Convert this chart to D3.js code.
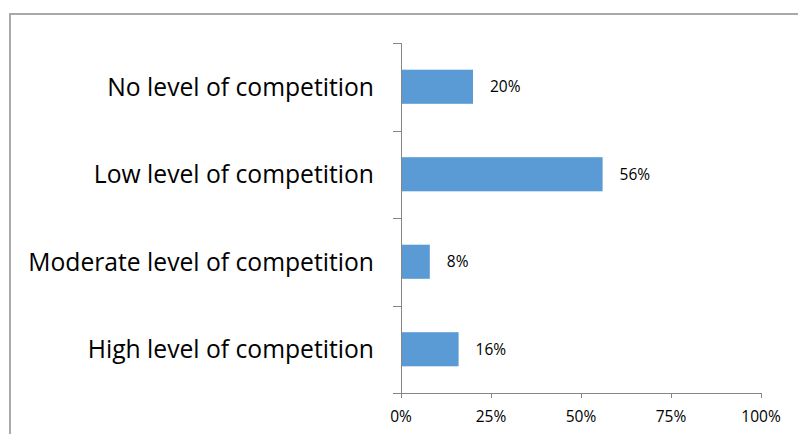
<!DOCTYPE html>
<html>
<head>
<meta charset="utf-8">
<script src="https://cdn.jsdelivr.net/npm/d3@7"></script>
<style>
  html, body { margin: 0; padding: 0; background: #fff; }
  svg { display: block; }
  text { font-family: "Open Sans", "Noto Sans", sans-serif; fill: #000; }
</style>
</head>
<body>
<svg id="chart" width="798" height="434"></svg>
<script>
// Survey shares, listed top to bottom
const categories = [
  "No level of competition",
  "Low level of competition",
  "Moderate level of competition",
  "High level of competition"
];
const shares = [20, 56, 8, 16];
const tickValues = [0, 25, 50, 75, 100];
const tickLabels = ["0%", "25%", "50%", "75%", "100%"];

const svg = d3.select("#chart");

// chart frame (right and bottom edges fall outside the view)
svg.append("rect")
  .attr("x", 10).attr("y", 14)
  .attr("width", 820).attr("height", 460)
  .attr("fill", "none")
  .attr("stroke", "#A9A9A9")
  .attr("stroke-width", 2);

const plotLeft = 401, plotRight = 761, plotTop = 43, plotBottom = 393;
const smallFont = 15.5;

const x = d3.scaleLinear().domain([0, 100]).range([plotLeft, plotRight]);
const y = d3.scaleBand()
  .domain(categories)
  .range([plotTop, plotBottom])
  .paddingInner(0.61)
  .paddingOuter(0.305);
const step = y.step();
const axisColor = "#868686";

// bars
svg.append("g").selectAll("rect")
  .data(categories)
  .join("rect")
  .attr("x", x(0))
  .attr("y", d => y(d))
  .attr("width", (d, i) => x(shares[i]) - x(0))
  .attr("height", y.bandwidth())
  .attr("fill", "#5B9BD5");

// value labels
svg.append("g").selectAll("text")
  .data(categories)
  .join("text")
  .attr("x", (d, i) => x(shares[i]) + 17)
  .attr("y", d => y(d) + y.bandwidth() / 2 + 5.5)
  .attr("font-size", smallFont)
  .text((d, i) => shares[i] + "%");

// vertical axis with category boundary ticks
const ya = svg.append("g");
ya.append("line")
  .attr("x1", plotLeft + 0.5).attr("x2", plotLeft + 0.5)
  .attr("y1", plotTop).attr("y2", plotBottom)
  .attr("stroke", axisColor);
ya.selectAll("line.tick")
  .data(d3.range(categories.length + 1))
  .join("line")
  .attr("class", "tick")
  .attr("x1", plotLeft - 8).attr("x2", plotLeft)
  .attr("y1", i => Math.round(plotTop + i * step) + 0.5)
  .attr("y2", i => Math.round(plotTop + i * step) + 0.5)
  .attr("stroke", axisColor);

// category labels, sized so the longest spans the label column
const catG = svg.append("g");
const catLabels = catG.selectAll("text")
  .data(categories)
  .join("text")
  .attr("text-anchor", "end")
  .attr("x", 374)
  .attr("font-size", 22)
  .text(d => d);
const widest = d3.max(catLabels.nodes(), n => n.getComputedTextLength());
const catSize = 22 * 346 / widest;
catLabels
  .attr("font-size", catSize)
  .attr("y", d => y(d) + y.bandwidth() / 2 + catSize * 0.714 / 2);

// horizontal axis
const xa = svg.append("g");
xa.append("line")
  .attr("x1", plotLeft).attr("x2", plotRight)
  .attr("y1", plotBottom + 0.5).attr("y2", plotBottom + 0.5)
  .attr("stroke", axisColor);
xa.selectAll("line.tick")
  .data(tickValues)
  .join("line")
  .attr("class", "tick")
  .attr("x1", d => Math.round(x(d)) + 0.5).attr("x2", d => Math.round(x(d)) + 0.5)
  .attr("y1", plotBottom).attr("y2", plotBottom + 5)
  .attr("stroke", axisColor);
xa.selectAll("text")
  .data(tickValues)
  .join("text")
  .attr("text-anchor", "middle")
  .attr("x", d => x(d))
  .attr("y", plotBottom + 29)
  .attr("font-size", smallFont)
  .text((d, i) => tickLabels[i]);
</script>
</body>
</html>
